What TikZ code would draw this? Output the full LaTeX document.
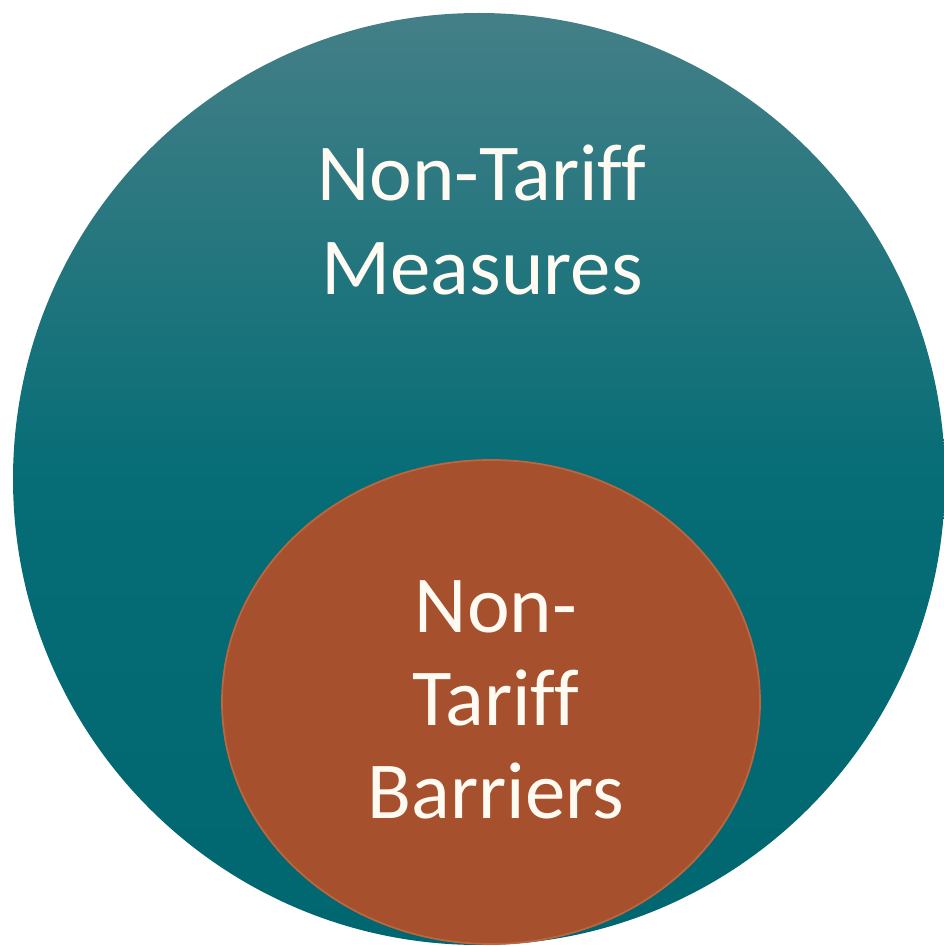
\documentclass[tikz,border=0pt]{standalone}
\usepackage{fontspec}
\setmainfont[Ligatures=CommonOff]{Carlito}
\usetikzlibrary{shapes.geometric,positioning}
\definecolor{tealtop}{RGB}{68,127,135}
\definecolor{tealmid}{RGB}{6,109,118}
\definecolor{tealbot}{RGB}{0,102,112}
\definecolor{rust}{RGB}{166,80,45}
\definecolor{rustedge}{RGB}{188,102,64}
\definecolor{cream}{RGB}{255,251,242}
\tikzset{
  measures/.style={circle, inner sep=0pt, minimum size=9.32cm,
    top color=tealtop, bottom color=tealbot, middle color=tealmid},
  barriers/.style={ellipse, inner sep=0pt, minimum width=5.38cm,
    minimum height=4.84cm, fill=rust, draw=rustedge, line width=0.5pt},
  caption/.style={inner sep=0pt, text=cream, align=center,
    font=\fontsize{23}{26.5}\selectfont}
}
\begin{document}
\begin{tikzpicture}
\useasboundingbox (0,0) rectangle (9.44,9.46);
%\draw[help lines] (0,0) grid (9.44,9.46);
\node[measures] (ntm) at (4.79,4.67) {};
\node[barriers] (ntb) at (4.91,2.44) {};
\node[caption] (ntmtext) at (4.82,7.26) {Non-Tariff\\Measures};
\node[caption] (ntbtext) at (4.96,2.46) {Non-\\Tariff\\Barriers};
\end{tikzpicture}
\end{document}
